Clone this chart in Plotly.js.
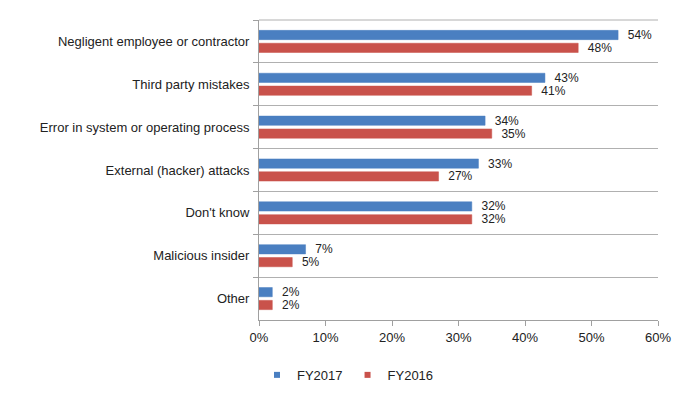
<!DOCTYPE html>
<html>
<head>
<meta charset="utf-8">
<script src="https://cdn.plot.ly/plotly-3.0.1.min.js"></script>
<style>html,body{margin:0;padding:0;background:#fff;}#chart{width:696px;height:393px;}</style>
</head>
<body>
<div id="chart"></div>
<script>
const categories = [
  "Negligent employee or contractor",
  "Third party mistakes",
  "Error in system or operating process",
  "External (hacker) attacks",
  "Don't know",
  "Malicious insider",
  "Other"
];
const fy2017 = [0.54, 0.43, 0.34, 0.33, 0.32, 0.07, 0.02];
const fy2016 = [0.48, 0.41, 0.35, 0.27, 0.32, 0.05, 0.02];
const seriesNames = ["FY2017", "FY2016"];
const seriesColors = ["#4a7fc1", "#c9524b"];
const xTickVals = [0, 0.1, 0.2, 0.3, 0.4, 0.5, 0.6];

const fontFam = "Liberation Sans, Arial, sans-serif";
const pct = v => Math.round(v * 100) + "%";

function barTrace(i, vals) {
  return {
    type: "bar", orientation: "h", name: seriesNames[i],
    y: categories, x: vals,
    text: vals.map(v => "  " + pct(v)), textposition: "outside", cliponaxis: false,
    constraintext: "none",
    textfont: {family: fontFam, size: 12, color: "#222"},
    marker: {color: seriesColors[i], line: {color: seriesColors[i], width: 0.5}},
    showlegend: false, legendgroup: "g" + i
  };
}
function legendTrace(i) {
  return {
    type: "scatter", mode: "markers", name: seriesNames[i],
    x: [null], y: [null],
    marker: {symbol: "square", size: 6, color: seriesColors[i]},
    showlegend: true, legendgroup: "g" + i
  };
}

const traces = [barTrace(0, fy2017), barTrace(1, fy2016), legendTrace(0), legendTrace(1)];

const layout = {
  width: 696, height: 393,
  margin: {l: 259, r: 38, t: 20, b: 73},
  paper_bgcolor: "#fff", plot_bgcolor: "#fff",
  font: {family: fontFam, size: 13, color: "#222"},
  barmode: "group",
  bargap: 0.4,
  bargroupgap: 0.28,
  showlegend: true,
  legend: {
    orientation: "h", x: 0.5, xanchor: "center", xref: "container",
    y: 0.046, yanchor: "middle", yref: "container",
    font: {family: fontFam, size: 13, color: "#222"},
    itemwidth: 30, traceorder: "normal", tracegroupgap: 0
  },
  xaxis: {
    range: [0, 0.6], tickvals: xTickVals, tickformat: ".0%",
    showgrid: false, zeroline: false,
    showline: true, linecolor: "#a0a0a0", linewidth: 1,
    ticks: "outside", ticklen: 5, tickcolor: "#a0a0a0",
    tickfont: {family: fontFam, size: 13, color: "#222"}
  },
  yaxis: {
    type: "category", autorange: "reversed",
    tickson: "boundaries",
    showgrid: true, gridcolor: "#b0b0b0", gridwidth: 1,
    showline: true, linecolor: "#a0a0a0", linewidth: 1,
    ticks: "outside", ticklen: 5, tickcolor: "#a0a0a0",
    ticklabelstandoff: 6,
    tickfont: {family: fontFam, size: 13, color: "#222"}
  },
  shapes: [{
    type: "line", xref: "paper", yref: "paper", x0: 0, x1: 1, y0: 1, y1: 1,
    line: {color: "#b0b0b0", width: 1}, layer: "below"
  }]
};

Plotly.newPlot("chart", traces, layout, {displayModeBar: false, staticPlot: true});
</script>
</body>
</html>
